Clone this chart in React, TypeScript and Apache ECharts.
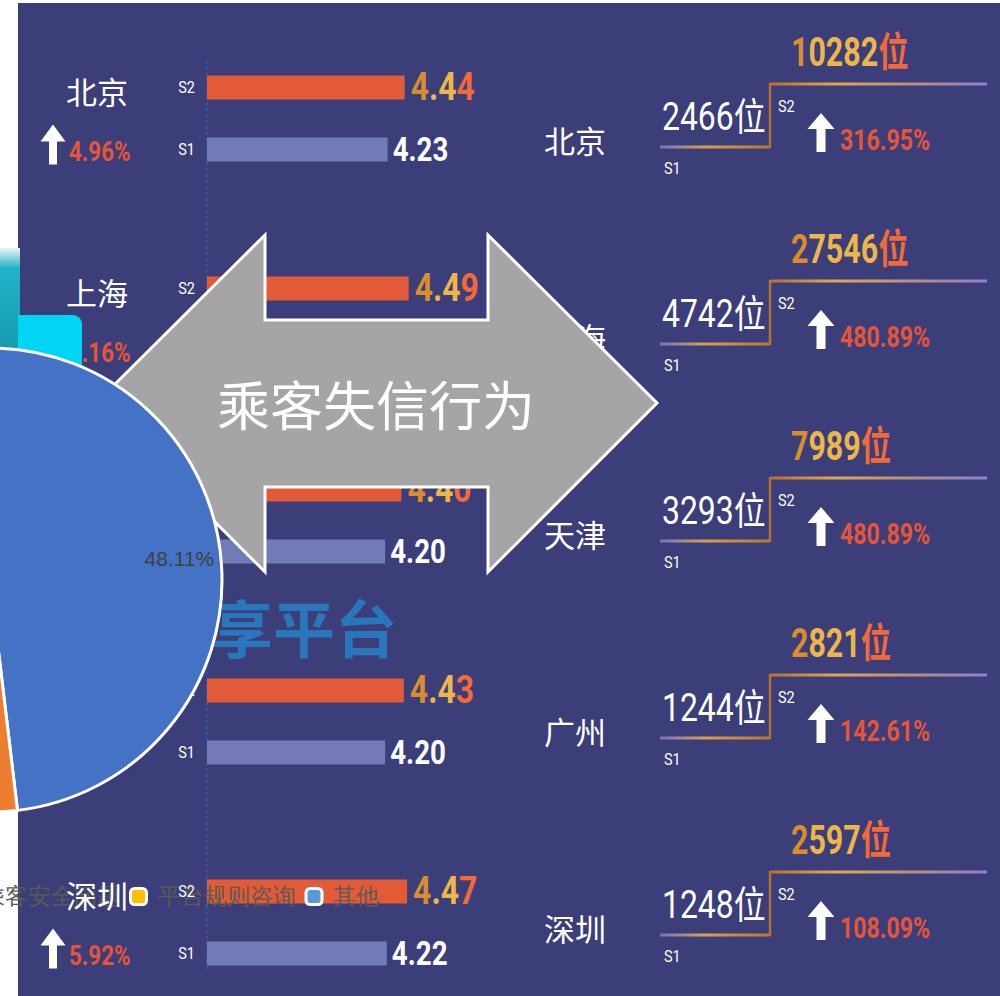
import React, { useEffect, useRef } from 'react';
import * as echarts from 'echarts';

// ---------------- data ----------------
const cities = ['北京', '上海', '天津', '广州', '深圳'];
const s2Scores = [4.44, 4.49, 4.4, 4.43, 4.47];
const s1Scores = [4.23, 4.27, 4.2, 4.2, 4.22];
const scoreGrowth = ['4.96%', '5.16%', '4.76%', '5.48%', '5.92%'];
const s1Counts = [2466, 4742, 3293, 1244, 1248];
const s2Counts = [10282, 27546, 7989, 2821, 2597];
const countGrowth = ['316.95%', '480.89%', '480.89%', '142.61%', '108.09%'];
const periodTags = ['S2', 'S1'];
const countUnit = '位';
const pieNames = ['司机服务问题', '行程费用争议', '乘客安全问题', '平台规则咨询', '其他'];
const pieValues = [48.11, 25.47, 12.26, 8.47, 5.69];
const pieColors = ['#4472C4', '#ED7D31', '#A5A5A5', '#FFC000', '#5B9BD5'];
const arrowTitle = '乘客失信行为';
const bgTitle = '共享平台';

// ---------------- styling constants ----------------
const BG = '#3B3E78';
const RED = '#E5553A';
const CN = "'Noto Sans CJK SC', sans-serif";
const NUM = "Roboto, 'Noto Sans CJK SC', sans-serif";
const AXIS_MIN = 2;
const BAR_SHIFT = 31;
const PIE_CENTER = [-10, 580];
const PIE_R = 232;
const PIE_LABEL_R = 185;

const txt = (x: number, y: number, text: string, style: any, sx = 1) => ({
  type: 'text',
  x,
  y,
  scaleX: sx,
  style: { text, x: 0, y: 0, align: 'left', verticalAlign: 'middle', fill: '#fff', ...style },
});

// gold -> orange coloured text, one colour per part
const goldTxt = (x: number, y: number, s: string, fontSize: number, sx: number) => {
  const base = { fontSize, fontWeight: 'bold', fontFamily: NUM };
  return {
    type: 'text',
    x,
    y,
    scaleX: sx,
    style: {
      text: `{a|${s.slice(0, 1)}}{b|${s.slice(1, -1)}}{c|${s.slice(-1)}}`,
      x: 0,
      y: 0,
      align: 'left',
      verticalAlign: 'middle',
      ...base,
      rich: {
        a: { ...base, fill: '#DA8C30' },
        b: { ...base, fill: '#ECB64B' },
        c: { ...base, fill: '#F06A3A' },
      },
    },
  };
};

const upArrow = (cx: number, tip: number, head: number, bottom: number, hw: number, sw: number) => ({
  type: 'polygon',
  shape: {
    points: [
      [cx, tip],
      [cx + hw, head],
      [cx + sw, head],
      [cx + sw, bottom],
      [cx - sw, bottom],
      [cx - sw, head],
      [cx - hw, head],
    ],
  },
  style: { fill: '#FFFFFF' },
});

const renderLeft = (params: any, api: any) => {
  const i = params.dataIndex;
  const c = api.coord([api.value(0), api.value(1)]);
  const ax = c[0];
  const cy = c[1];
  const y2 = cy - BAR_SHIFT;
  const y1 = cy + BAR_SHIFT;
  const e2 = api.coord([s2Scores[i], i])[0];
  const e1 = api.coord([s1Scores[i], i])[0];
  return {
    type: 'group',
    children: [
      txt(ax - 110, y2 + 3, cities[i], { fontSize: 31, fontFamily: CN, align: 'center' }),
      upArrow(ax - 154, y1 - 25, y1 - 8, y1 + 15, 12.5, 4),
      txt(ax - 138, y1 + 2, scoreGrowth[i], { fontSize: 28, fontWeight: 'bold', fill: RED, fontFamily: NUM }, 0.8),
      txt(ax - 12, y2, periodTags[0], { fontSize: 17, fontFamily: NUM, align: 'right' }, 0.85),
      txt(ax - 12, y1, periodTags[1], { fontSize: 17, fontFamily: NUM, align: 'right' }, 0.85),
      goldTxt(e2 + 6, y2, s2Scores[i].toFixed(2), 38, 0.84),
      txt(e1 + 5, y1, s1Scores[i].toFixed(2), { fontSize: 33, fontWeight: 'bold', fill: '#FFFFFF', fontFamily: NUM }, 0.84),
    ],
  };
};

const renderRight = (params: any, api: any) => {
  const i = params.dataIndex;
  const cy = api.coord([api.value(0), api.value(1)])[1];
  const y2 = cy - 31.5;
  const y1 = cy + 31.5;
  const xs = 660;
  const xr = 770;
  const xe = 987;
  const s1Grad = new echarts.graphic.LinearGradient(xs, 0, xr, 0, [
    { offset: 0, color: '#7D6FC8' },
    { offset: 0.4, color: '#D9A04A' },
    { offset: 1, color: '#B87830' },
  ], true);
  const s2Grad = new echarts.graphic.LinearGradient(xr, 0, xe, 0, [
    { offset: 0, color: '#B5722C' },
    { offset: 0.3, color: '#E2A84C' },
    { offset: 0.65, color: '#B8907E' },
    { offset: 1, color: '#8C80D6' },
  ], true);
  return {
    type: 'group',
    children: [
      txt(575, cy + 24, cities[i], { fontSize: 31, fontFamily: CN, align: 'center' }),
      { type: 'line', shape: { x1: xs, y1: y1, x2: xr, y2: y1 }, style: { stroke: s1Grad, lineWidth: 3 } },
      { type: 'line', shape: { x1: xr, y1: y1 + 1, x2: xr, y2: y2 - 1 }, style: { stroke: '#B27230', lineWidth: 2.5 } },
      { type: 'line', shape: { x1: xr, y1: y2, x2: xe, y2: y2 }, style: { stroke: s2Grad, lineWidth: 3 } },
      txt(662, y1 - 30, s1Counts[i] + countUnit, { fontSize: 38, fontFamily: NUM }, 0.84),
      txt(664, y1 + 21, periodTags[1], { fontSize: 17, fontFamily: NUM }, 0.85),
      goldTxt(791, y2 - 32, s2Counts[i] + countUnit, 40, 0.76),
      txt(778, y2 + 22, periodTags[0], { fontSize: 17, fontFamily: NUM }, 0.85),
      upArrow(821, y2 + 29, y2 + 45, y2 + 68, 13.5, 4.5),
      txt(840, y2 + 56, countGrowth[i], { fontSize: 30, fontWeight: 'bold', fill: RED, fontFamily: NUM }, 0.77),
    ],
  };
};

const arrowPoints = [
  [96, 403], [265, 235], [265, 320], [488, 320], [488, 235],
  [657, 403], [488, 572], [488, 487], [265, 487], [265, 572],
];

export default function App() {
  const ref = useRef<HTMLDivElement>(null);
  useEffect(() => {
    if (!ref.current) return;
    const chart = echarts.init(ref.current, undefined, { renderer: 'svg' });
    const option: any = {
      animation: false,
      grid: [
        { left: 207, top: 18, width: 324, height: 1005, show: false },
        { left: 0, top: 17, width: 1000, height: 985, show: false },
      ],
      xAxis: [
        { gridIndex: 0, type: 'value', min: AXIS_MIN, max: 6, show: false },
        { gridIndex: 1, type: 'value', min: 0, max: 1, show: false },
      ],
      yAxis: [
        { gridIndex: 0, type: 'category', data: cities, inverse: true, show: false },
        { gridIndex: 1, type: 'category', data: cities, inverse: true, show: false },
      ],
      legend: {
        data: pieNames,
        right: 621,
        top: 885,
        width: 2000,
        padding: 0,
        orient: 'horizontal',
        align: 'left',
        itemWidth: 16,
        itemHeight: 16,
        itemGap: 9,
        icon: 'roundRect',
        itemStyle: { borderColor: '#FFFFFF', borderWidth: 3 },
        textStyle: { fontSize: 23, color: '#5B5B55', fontFamily: 'serif', padding: [0, 0, 0, 6] },
        selectedMode: false,
        z: 4,
      },
      graphic: [
        { type: 'rect', z: -1, silent: true, shape: { x: 18, y: 3, width: 982, height: 993 }, style: { fill: BG } },
        { type: 'line', z: 0, silent: true, shape: { x1: 207, y1: 60, x2: 207, y2: 972 }, style: { stroke: '#2D55A5', lineWidth: 2, lineDash: [3, 3] } },
        {
          type: 'text', z: 0, x: 397, y: 626, silent: true,
          style: { text: bgTitle, fill: '#2A76BB', fontSize: 62, fontWeight: 'bold', fontFamily: CN, align: 'right', verticalAlign: 'middle' },
        },
        {
          type: 'rect', z: 7, silent: true, shape: { x: 0, y: 248, width: 20, height: 110 },
          style: {
            fill: new echarts.graphic.LinearGradient(0, 0, 0, 1, [
              { offset: 0, color: '#EAF6F8' },
              { offset: 0.18, color: '#22B3C8' },
              { offset: 1, color: '#1598AE' },
            ]),
          },
        },
        { type: 'rect', z: 7, silent: true, shape: { x: 18, y: 315, width: 64, height: 70, r: [0, 9, 0, 0] }, style: { fill: '#00D6F3' } },
        { type: 'polygon', z: 7, silent: true, shape: { points: arrowPoints }, style: { fill: '#A5A5A5', stroke: '#FFFFFF', lineWidth: 3 } },
        {
          type: 'text', z: 7, x: 376, y: 403, silent: true,
          style: { text: arrowTitle, fill: '#FFFFFF', fontSize: 53, fontFamily: CN, align: 'center', verticalAlign: 'middle' },
        },
      ],
      series: [
        {
          type: 'bar', name: periodTags[0], xAxisIndex: 0, yAxisIndex: 0, data: s2Scores,
          barWidth: 24, barGap: '158%', itemStyle: { color: '#E35A37' }, silent: true, z: 2,
        },
        {
          type: 'bar', name: periodTags[1], xAxisIndex: 0, yAxisIndex: 0, data: s1Scores,
          barWidth: 24, barGap: '158%', itemStyle: { color: '#737BB7' }, silent: true, z: 2,
        },
        {
          type: 'custom', xAxisIndex: 0, yAxisIndex: 0, z: 6, silent: true,
          data: cities.map((_, i) => [AXIS_MIN, i]), encode: { x: 0, y: 1 }, renderItem: renderLeft,
        },
        {
          type: 'custom', xAxisIndex: 1, yAxisIndex: 1, z: 6, silent: true,
          data: cities.map((_, i) => [0, i]), encode: { x: 0, y: 1 }, renderItem: renderRight,
        },
        {
          type: 'pie', z: 8, silent: true,
          center: PIE_CENTER, radius: PIE_R, startAngle: 90, clockwise: true,
          data: pieNames.map((n, i) => ({ name: n, value: pieValues[i], itemStyle: { color: pieColors[i] } })),
          itemStyle: { borderColor: '#FFFFFF', borderWidth: 3 },
          label: { show: true, position: 'inside', formatter: '{d}%', color: '#404040', fontSize: 21, fontFamily: "'Liberation Sans', sans-serif" },
          labelLine: { show: false },
          labelLayout: (p: any) => {
            const r = p.labelRect;
            const lx = r.x + r.width / 2;
            const ly = r.y + r.height / 2;
            const k = PIE_LABEL_R / (PIE_R / 2) - 1;
            return { dx: (lx - PIE_CENTER[0]) * k, dy: (ly - PIE_CENTER[1]) * k - 10 };
          },
        },
      ],
    };
    chart.setOption(option);
    return () => chart.dispose();
  }, []);
  return (
    <div style={{ position: 'absolute', left: 0, top: 0, width: 1000, height: 996, overflow: 'hidden', background: '#FFFFFF' }}>
      <div ref={ref} style={{ width: 1000, height: 1040 }} />
    </div>
  );
}
